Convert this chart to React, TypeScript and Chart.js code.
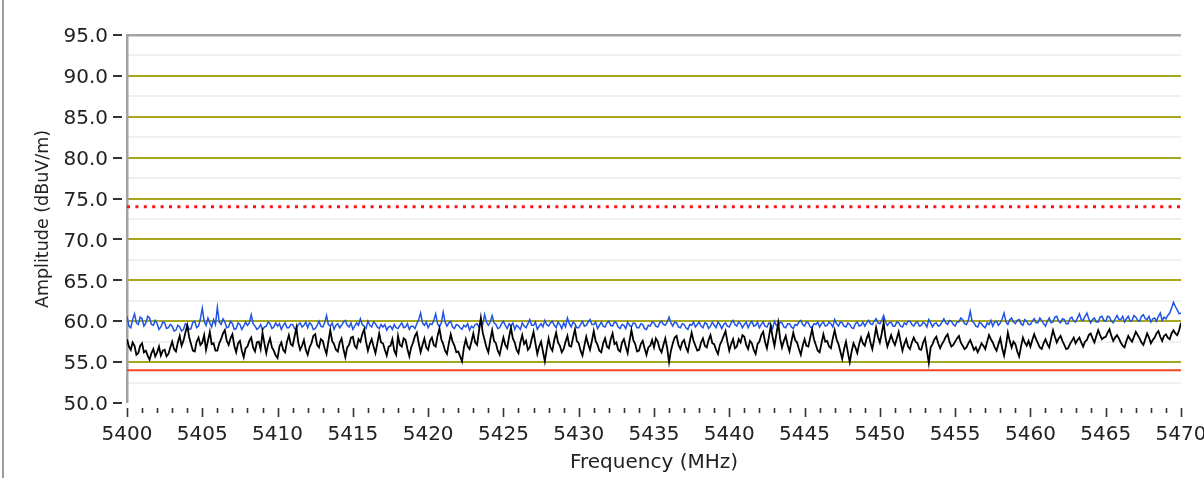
import React, { useEffect, useRef } from "react";
import { Chart, registerables } from "chart.js";

Chart.register(...registerables);

const FREQ_START = 5400;
const FREQ_STEP = 0.125;
const X_MIN = 5400;
const X_MAX = 5470;
const Y_MIN = 50;
const Y_MAX = 95;
const X_TICKS = [5400, 5405, 5410, 5415, 5420, 5425, 5430, 5435, 5440, 5445, 5450, 5455, 5460, 5465, 5470];
const Y_TICKS = [50, 55, 60, 65, 70, 75, 80, 85, 90, 95];
const Y_MAJOR_GRID = [55, 60, 65, 70, 75, 80, 85, 90];
const Y_MINOR_GRID = [52.5, 57.5, 62.5, 67.5, 72.5, 77.5, 82.5, 87.5, 92.5];
const LIMIT_PEAK = 74;
const LIMIT_AVG = 54;
const X_TITLE = "Frequency (MHz)";
const Y_TITLE = "Amplitude (dBuV/m)";

// Peak trace (blue), one value every 0.125 MHz from 5400 to 5470 (8 per MHz per row)
const BLUE = [
  60.6, 59.4, 59.2, 60.2, 60.9, 59.8, 59.6, 60.5,
  60.3, 59.4, 59.8, 60.6, 60.4, 59.6, 59.5, 60.1,
  59.7, 59.0, 59.3, 59.9, 59.8, 59.1, 59.2, 59.6,
  59.4, 58.8, 58.9, 59.5, 59.3, 58.8, 59.0, 59.7,
  59.6, 59.0, 59.1, 59.9, 60.0, 59.2, 59.4, 60.3,
  61.6, 60.0, 59.5, 60.4, 59.8, 59.3, 60.2, 59.6,
  61.7, 59.9, 59.6, 60.3, 59.9, 59.2, 59.3, 60.0,
  59.7, 59.0, 59.1, 59.8, 59.6, 59.0, 59.4, 59.9,
  59.5, 59.8, 60.8, 59.7, 59.4, 59.0, 59.2, 59.6,
  58.9, 59.3, 59.4, 59.9, 59.7, 59.1, 59.3, 59.8,
  59.4, 59.7, 59.0, 59.5, 59.8, 59.2, 59.2, 59.6,
  59.6, 59.1, 59.0, 59.6, 59.8, 59.3, 59.5, 59.9,
  59.2, 59.8, 59.6, 59.0, 59.1, 59.5, 60.0, 59.4,
  59.3, 59.8, 60.7, 59.6, 59.4, 59.8, 59.0, 59.5,
  59.7, 59.2, 59.5, 59.9, 60.1, 59.5, 59.3, 59.8,
  59.0, 59.4, 59.8, 59.5, 60.3, 59.6, 59.4, 59.1,
  60.0, 59.5, 59.3, 59.9, 59.7, 59.3, 59.1, 59.6,
  59.3, 59.6, 58.9, 59.3, 59.4, 59.0, 59.6, 59.2,
  59.1, 59.5, 59.8, 59.2, 59.3, 59.7, 59.0, 59.4,
  59.4, 59.1, 59.7, 60.2, 61.0, 59.8, 59.5, 59.9,
  59.2, 59.7, 59.6, 60.1, 60.9, 59.7, 59.3, 59.8,
  61.1, 59.9, 59.4, 59.8, 60.0, 59.3, 59.1, 59.6,
  59.5, 59.2, 59.0, 59.5, 59.3, 59.7, 58.9, 59.4,
  59.2, 59.6, 59.7, 59.3, 60.0, 59.6, 60.8, 59.9,
  59.5, 59.9, 60.7, 59.8, 59.6, 59.1, 59.2, 59.7,
  60.0, 59.5, 59.1, 59.7, 59.4, 59.8, 59.0, 59.5,
  59.3, 59.0, 59.8, 59.4, 59.2, 59.7, 60.2, 59.5,
  59.5, 59.9, 59.0, 59.4, 59.7, 59.3, 60.1, 59.6,
  59.4, 59.8, 60.0, 59.5, 59.2, 59.9, 59.6, 59.1,
  59.8, 59.3, 60.4, 59.7, 59.3, 59.9, 59.7, 59.2,
  59.2, 59.6, 60.0, 59.4, 59.5, 59.9, 60.2, 59.6,
  59.6, 59.9, 59.1, 59.5, 59.9, 59.4, 59.3, 59.8,
  60.0, 59.5, 59.4, 59.9, 59.8, 59.3, 59.1, 59.6,
  59.5, 59.1, 59.9, 59.5, 59.3, 59.8, 59.7, 59.2,
  59.2, 59.7, 59.6, 59.1, 59.0, 59.5, 59.4, 59.9,
  59.8, 59.4, 59.3, 59.8, 60.0, 59.6, 59.5, 59.9,
  60.5, 59.8, 59.4, 59.9, 59.8, 59.3, 59.2, 59.7,
  59.6, 59.2, 59.0, 59.6, 59.5, 59.9, 59.3, 59.6,
  59.9, 59.4, 59.2, 59.8, 59.7, 59.1, 59.4, 59.9,
  59.5, 59.2, 59.9, 59.6, 59.1, 59.6, 59.8, 59.4,
  59.3, 59.8, 60.1, 59.6, 59.4, 59.9, 59.7, 59.2,
  59.6, 59.9, 59.2, 59.7, 60.0, 59.4, 59.5, 59.9,
  59.2, 59.6, 59.9, 59.4, 59.3, 59.8, 59.6, 59.1,
  60.0, 59.5, 59.4, 59.9, 59.8, 59.3, 59.2, 59.7,
  59.7, 59.3, 59.1, 59.6, 59.5, 59.9, 60.1, 59.6,
  59.4, 59.9, 59.8, 59.3, 59.2, 59.7, 59.6, 59.9,
  59.3, 59.7, 59.9, 59.4, 59.5, 59.9, 59.7, 59.3,
  60.2, 59.7, 59.4, 59.9, 59.8, 59.4, 59.3, 59.8,
  59.6, 59.2, 59.1, 59.7, 59.9, 59.4, 59.5, 59.9,
  59.4, 59.8, 60.1, 59.7, 59.6, 60.0, 60.3, 59.8,
  59.7, 60.1, 60.7, 59.9, 59.5, 59.8, 59.9, 59.4,
  59.4, 59.9, 59.8, 59.4, 59.3, 59.8, 59.6, 60.0,
  60.0, 59.6, 59.4, 59.8, 59.9, 59.4, 59.5, 59.9,
  59.7, 59.3, 60.2, 59.8, 59.3, 59.7, 59.8, 59.4,
  59.5, 59.9, 60.3, 59.8, 59.6, 60.1, 60.0, 59.6,
  59.4, 59.9, 59.9, 60.4, 60.2, 59.7, 59.6, 60.1,
  61.2, 60.0, 59.8, 59.4, 59.3, 59.9, 59.7, 59.4,
  59.2, 59.8, 59.6, 60.1, 59.4, 59.9, 60.0, 59.5,
  59.8, 60.3, 61.0, 59.9, 59.6, 60.2, 60.4, 59.9,
  59.7, 60.1, 60.2, 59.7, 59.5, 60.2, 60.0, 59.6,
  59.6, 60.0, 60.3, 59.8, 59.8, 60.4, 60.1, 59.7,
  59.4, 60.0, 60.4, 59.8, 59.9, 60.5, 60.6, 60.0,
  59.8, 60.3, 60.2, 59.7, 59.7, 60.3, 60.5, 60.0,
  59.9, 60.4, 60.9, 60.2, 60.1, 60.6, 61.0, 60.3,
  59.8, 60.2, 60.4, 59.9, 59.9, 60.5, 60.6, 60.1,
  60.0, 60.6, 60.5, 60.0, 59.8, 60.3, 60.7, 60.2,
  60.2, 60.6, 59.9, 60.3, 60.6, 60.0, 60.1, 60.7,
  60.5, 60.1, 60.0, 60.6, 60.8, 60.3, 60.2, 60.6,
  59.9, 60.3, 60.4, 60.0, 60.6, 61.0, 60.1, 60.5,
  60.3, 60.7, 61.0, 61.6, 62.3, 61.8, 61.4, 60.9,
  61.0,
];

// Average trace (black), one value every 0.125 MHz from 5400 to 5470 (8 per MHz per row)
const BLACK = [
  57.8, 56.9, 56.5, 57.4, 57.0, 55.9, 56.1, 57.0,
  57.3, 56.2, 56.4, 55.8, 55.3, 56.1, 56.6, 55.7,
  56.2, 56.9, 55.8, 56.4, 56.5, 55.7, 56.0, 56.8,
  57.5, 56.6, 56.3, 57.4, 58.2, 57.0, 57.6, 58.6,
  59.5, 58.1, 57.2, 56.4, 56.3, 57.5, 58.0, 57.1,
  57.4, 58.3, 56.5, 57.6, 58.7, 57.2, 57.3, 56.4,
  56.4, 57.3, 57.8, 58.5, 58.9, 57.6, 57.1, 57.9,
  58.4, 57.0, 56.2, 57.3, 57.6, 56.4, 55.6, 56.7,
  56.9, 57.6, 58.0, 56.8, 56.3, 57.4, 57.5, 56.6,
  58.6, 57.3, 56.1, 57.2, 57.9, 56.8, 56.4, 55.8,
  55.5, 56.9, 57.4, 56.5, 56.2, 57.5, 58.3, 57.2,
  57.0, 58.1, 59.2, 57.4, 56.5, 57.0, 57.7, 56.5,
  55.9, 56.8, 57.3, 58.2, 58.4, 57.1, 56.8, 57.8,
  57.6, 56.7, 56.0, 57.5, 58.9, 57.6, 57.2, 56.5,
  56.3, 57.4, 57.9, 56.6, 55.6, 56.8, 57.1, 58.0,
  58.1, 57.0, 56.7, 57.8, 57.5, 58.4, 59.0, 57.5,
  56.4, 57.2, 57.8, 56.9, 56.1, 57.3, 58.5, 57.4,
  57.3, 56.5, 55.8, 56.9, 57.0, 57.8, 56.4, 55.9,
  58.2, 57.1, 56.9, 57.9, 57.7, 56.6, 55.7, 56.8,
  57.4, 58.2, 58.6, 57.3, 56.2, 57.1, 57.9, 56.8,
  56.5, 57.6, 58.0, 57.1, 56.9, 58.2, 59.1, 57.8,
  57.2, 56.4, 56.0, 57.3, 58.4, 57.5, 57.0, 56.2,
  56.3, 55.7, 55.1, 56.8, 57.8, 56.9, 56.6, 57.5,
  58.5, 57.4, 57.1, 58.8, 60.4, 58.6, 57.7, 56.8,
  56.2, 57.7, 58.9, 57.6, 57.3, 56.4, 55.9, 57.0,
  58.0, 57.1, 56.7, 58.1, 59.2, 57.9, 57.4, 56.5,
  56.1, 57.4, 58.3, 57.2, 57.6, 56.5, 56.8, 57.8,
  58.7, 57.3, 56.0, 56.9, 57.5, 56.3, 55.1, 56.6,
  57.9, 56.8, 56.4, 57.7, 58.6, 57.4, 57.0, 56.2,
  56.6, 57.5, 58.2, 57.0, 56.9, 58.0, 59.0, 57.6,
  57.3, 56.4, 55.8, 57.0, 58.1, 57.2, 56.5, 57.6,
  58.8, 57.6, 57.1, 56.4, 56.2, 57.3, 57.9, 56.9,
  56.7, 57.8, 58.5, 57.2, 57.4, 56.5, 56.3, 57.4,
  57.8, 56.9, 56.1, 57.6, 58.9, 57.7, 57.2, 56.3,
  56.4, 57.2, 57.6, 56.7, 55.9, 56.8, 57.0, 57.7,
  56.8, 57.9, 57.5, 56.6, 56.2, 57.1, 57.9, 56.7,
  55.0, 56.4, 57.3, 58.0, 58.2, 57.1, 56.6, 57.4,
  57.7, 56.8, 56.3, 57.5, 58.6, 57.6, 57.0, 56.4,
  56.5, 57.4, 57.9, 57.0, 56.8, 57.7, 58.3, 57.3,
  57.2, 56.5, 56.0, 57.1, 57.6, 58.2, 58.8, 57.5,
  56.4, 57.2, 57.8, 56.7, 56.9, 57.8, 57.4, 58.3,
  58.1, 57.1, 56.6, 57.6, 57.3, 56.5, 56.0, 57.2,
  57.5, 58.3, 58.7, 57.5, 56.7, 58.0, 59.4, 58.1,
  57.0, 58.4, 59.8, 57.9, 56.8, 57.6, 58.2, 57.1,
  56.3, 57.5, 58.6, 57.7, 57.4, 56.6, 55.9, 57.0,
  57.8, 57.0, 56.9, 58.0, 59.0, 57.8, 57.1, 56.4,
  56.2, 57.3, 58.4, 57.5, 57.6, 56.9, 56.7, 57.9,
  58.9, 57.8, 57.2, 56.3, 55.4, 56.6, 57.5, 56.2,
  55.0, 56.3, 57.3, 56.8, 56.1, 57.2, 58.0, 57.3,
  57.0, 57.9, 58.5, 57.4, 56.6, 57.8, 59.2, 58.1,
  57.4, 58.5, 59.8, 58.0, 56.9, 57.6, 58.3, 57.6,
  57.1, 57.9, 58.7, 57.5, 56.4, 57.2, 57.8, 56.9,
  56.6, 57.4, 58.0, 57.5, 57.3, 56.6, 56.5, 57.4,
  57.9, 56.4, 54.9, 56.8, 57.2, 57.8, 58.1, 57.3,
  56.7, 57.2, 57.6, 58.1, 58.4, 57.5, 56.9, 57.1,
  57.5, 57.9, 58.2, 57.4, 57.0, 56.6, 56.8, 57.3,
  57.7, 57.1, 56.5, 56.8, 56.2, 56.7, 57.3, 57.0,
  56.6, 57.5, 58.3, 57.8, 57.4, 56.8, 56.4, 57.2,
  57.9, 56.7, 55.8, 57.0, 58.6, 57.6, 56.8, 57.5,
  57.2, 56.3, 55.7, 56.9, 58.0, 57.4, 57.0, 57.6,
  56.9, 57.7, 58.4, 57.8, 57.3, 56.8, 56.6, 57.3,
  57.8, 57.2, 56.8, 57.9, 58.9, 58.1, 57.4, 57.9,
  58.2, 57.6, 57.1, 56.6, 56.7, 57.2, 57.6, 58.0,
  57.3, 57.7, 58.0, 57.4, 56.9, 57.5, 57.7, 58.3,
  58.5, 57.9, 57.4, 58.2, 58.9, 58.3, 57.8, 58.0,
  58.1, 58.6, 59.0, 58.2, 57.6, 58.0, 58.3, 57.9,
  57.4, 57.0, 56.8, 57.6, 58.2, 57.8, 57.5, 58.1,
  58.7, 58.3, 57.9, 57.4, 57.1, 57.8, 58.5, 58.0,
  57.3, 57.7, 58.0, 58.5, 58.8, 58.1, 57.6, 58.2,
  58.4, 58.0, 57.8, 58.5, 58.9, 58.5, 58.3, 58.9,
  59.8,
];

const FONT = '"DejaVu Sans", sans-serif';
const TEXT_COLOR = "#222222";

const toPoints = (vals: number[]) => vals.map((y, i) => ({ x: FREQ_START + i * FREQ_STEP, y }));

const decorPlugin = {
  id: "decor",
  beforeDatasetsDraw(chart: any) {
    const { ctx, chartArea, scales } = chart;
    const { left, right, top, bottom } = chartArea;
    const ys = scales.y;
    ctx.save();
    ctx.strokeStyle = "#f0f0f0";
    ctx.lineWidth = 2;
    Y_MINOR_GRID.forEach((v) => {
      const py = Math.round(ys.getPixelForValue(v));
      ctx.beginPath();
      ctx.moveTo(left, py);
      ctx.lineTo(right, py);
      ctx.stroke();
    });
    ctx.strokeStyle = "#a8a61e";
    ctx.lineWidth = 2;
    Y_MAJOR_GRID.forEach((v) => {
      const py = Math.round(ys.getPixelForValue(v));
      ctx.beginPath();
      ctx.moveTo(left, py);
      ctx.lineTo(right, py);
      ctx.stroke();
    });
    ctx.fillStyle = "#a3a3a3";
    ctx.fillRect(left - 1, top - 1, right - left + 1, 2.5);
    ctx.fillRect(left - 1, top - 1, 2.5, bottom - top + 1);
    ctx.restore();
  },
  afterDraw(chart: any) {
    const { ctx, chartArea, scales } = chart;
    const { left, right, top, bottom } = chartArea;
    const xs = scales.x;
    const ys = scales.y;
    ctx.save();
    ctx.fillStyle = "#9c9c9c";
    ctx.fillRect(2, 0, 2, chart.height);
    ctx.strokeStyle = "#333333";
    ctx.lineWidth = 2;
    Y_TICKS.forEach((v) => {
      const py = Math.round(ys.getPixelForValue(v));
      ctx.beginPath();
      ctx.moveTo(left - 14, py);
      ctx.lineTo(left - 5, py);
      ctx.stroke();
    });
    ctx.lineWidth = 1.6;
    for (let f = X_MIN; f <= X_MAX; f += 1) {
      const px = Math.round(xs.getPixelForValue(f)) + 0.5;
      const major = X_TICKS.includes(f);
      ctx.beginPath();
      ctx.moveTo(px, bottom + 5);
      ctx.lineTo(px, bottom + (major ? 14 : 10));
      ctx.stroke();
    }
    ctx.fillStyle = TEXT_COLOR;
    ctx.font = `20px ${FONT}`;
    ctx.textAlign = "center";
    ctx.textBaseline = "alphabetic";
    ctx.fillText(X_TITLE, (left + right) / 2, 468);
    ctx.translate(48, (top + bottom) / 2);
    ctx.rotate(-Math.PI / 2);
    ctx.font = `17.5px ${FONT}`;
    ctx.fillText(Y_TITLE, 0, 0);
    ctx.restore();
  },
};

export default function App() {
  const canvasRef = useRef<HTMLCanvasElement | null>(null);

  useEffect(() => {
    document.body.style.margin = "0";
    const canvas = canvasRef.current;
    if (!canvas) return;
    const chart = new Chart(canvas, {
      type: "line",
      data: {
        datasets: [
          {
            label: "Average",
            data: toPoints(BLACK),
            borderColor: "#000000",
            borderWidth: 1.8,
            pointRadius: 0,
            tension: 0,
          },
          {
            label: "Peak",
            data: toPoints(BLUE),
            borderColor: "#1f52e6",
            borderWidth: 1.5,
            pointRadius: 0,
            tension: 0,
          },
          {
            label: "Peak limit",
            data: [
              { x: X_MIN, y: LIMIT_PEAK },
              { x: X_MAX, y: LIMIT_PEAK },
            ],
            borderColor: "#ff1414",
            borderWidth: 3,
            borderDash: [3, 5.4],
            borderCapStyle: "butt",
            pointRadius: 0,
          },
          {
            label: "Average limit",
            data: [
              { x: X_MIN, y: LIMIT_AVG },
              { x: X_MAX, y: LIMIT_AVG },
            ],
            borderColor: "#f4442c",
            borderWidth: 2,
            pointRadius: 0,
          },
        ],
      },
      options: {
        animation: false,
        responsive: false,
        maintainAspectRatio: false,
        events: [],
        layout: { padding: { left: 0, top: 35, right: 23, bottom: 0 } },
        plugins: { legend: { display: false }, tooltip: { enabled: false } },
        scales: {
          x: {
            type: "linear",
            min: X_MIN,
            max: X_MAX,
            grid: { display: false, drawTicks: false },
            border: { display: false },
            afterBuildTicks: (s: any) => {
              s.ticks = X_TICKS.map((v) => ({ value: v }));
            },
            afterFit: (s: any) => {
              s.height = 75;
              s.paddingLeft = 0;
              s.paddingRight = 0;
            },
            ticks: {
              autoSkip: false,
              maxRotation: 0,
              minRotation: 0,
              padding: 20,
              color: TEXT_COLOR,
              font: { family: FONT, size: 20 },
              callback: (v: any) => String(v),
            },
          },
          y: {
            type: "linear",
            min: Y_MIN,
            max: Y_MAX,
            grid: { display: false, drawTicks: false },
            border: { display: false },
            afterBuildTicks: (s: any) => {
              s.ticks = Y_TICKS.map((v) => ({ value: v }));
            },
            afterFit: (s: any) => {
              s.width = 127;
              s.paddingTop = 0;
              s.paddingBottom = 0;
            },
            ticks: {
              autoSkip: false,
              padding: 19,
              labelOffset: 2,
              color: TEXT_COLOR,
              font: { family: FONT, size: 20 },
              callback: (v: any) => Number(v).toFixed(1),
            },
          },
        },
      },
      plugins: [decorPlugin],
    } as any);
    return () => chart.destroy();
  }, []);

  return <canvas ref={canvasRef} width={1204} height={478} style={{ display: "block" }} />;
}
